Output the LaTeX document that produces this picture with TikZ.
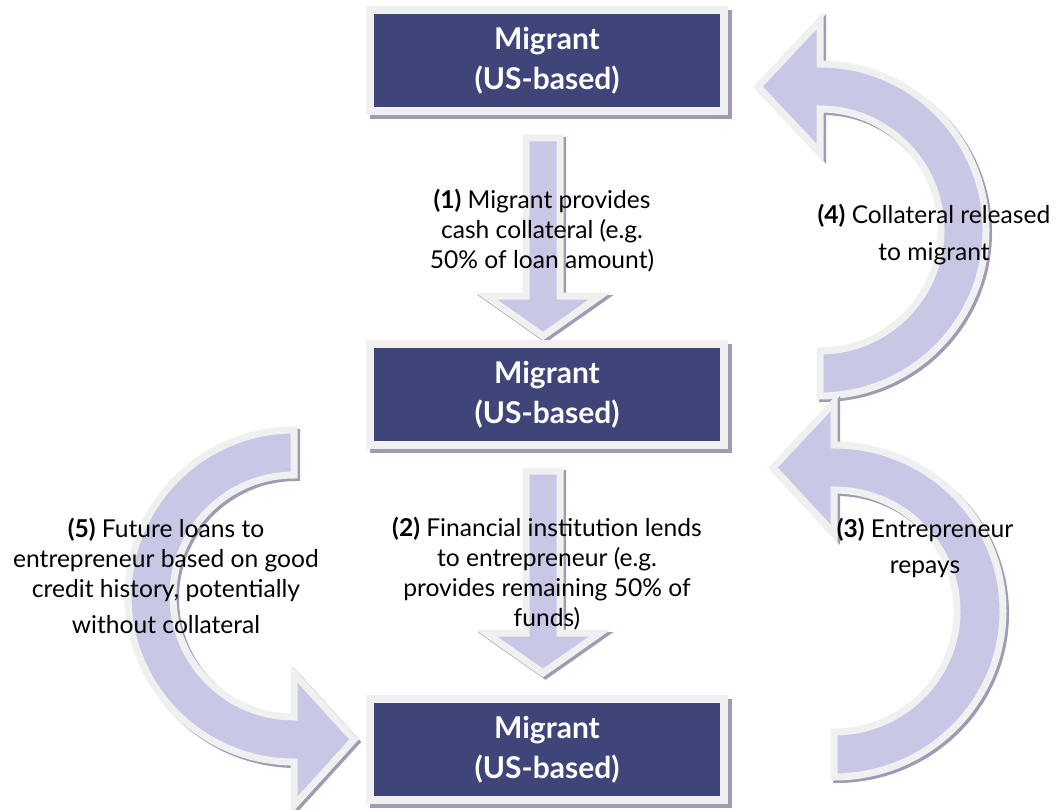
\documentclass[tikz,border=0pt]{standalone}
\usepackage{fontspec}
\setmainfont{Lato}
\definecolor{boxfill}{RGB}{63,69,120}
\definecolor{lav}{RGB}{200,200,230}
\definecolor{lightb}{RGB}{240,240,240}
\definecolor{shadowc}{RGB}{160,155,178}
\begin{document}
\begin{tikzpicture}[x=1pt,y=1pt,
  arrowshape/.style={fill=lav, draw=lightb, line width=7pt, line join=miter,
    preaction={fill=shadowc, draw=shadowc, line width=7pt, transform canvas={shift={(2.5pt,-2.5pt)}}}},
  boxshape/.style={fill=boxfill, draw=lightb, line width=8pt,
    preaction={fill=shadowc, draw=shadowc, line width=8pt, transform canvas={shift={(4pt,-4pt)}}}},
  boxtext/.style={text=white, font=\fontsize{30}{40}\selectfont\bfseries, align=center},
  lbl/.style={text=black, font=\fontsize{24.6}{30}\selectfont, align=center}
]
\useasboundingbox (0,0) rectangle (1059,-810);

% curved arrows
\path[arrowshape] (820,-396) arc[start angle=-90,end angle=90,radius=166pt]
  -- (820,-20.5) -- (758,-86.5) -- (820,-152.5) -- (820,-109)
  arc[start angle=90,end angle=-90,radius=121pt] -- cycle;
\path[arrowshape] (834,-777) arc[start angle=-90,end angle=90,x radius=169pt,y radius=166pt]
  -- (834,-402.5) -- (773,-467.5) -- (834,-533.5) -- (834,-490)
  arc[start angle=90,end angle=-90,x radius=123pt,y radius=121pt] -- cycle;
\path[arrowshape] (294,-430) arc[start angle=90,end angle=270,radius=166pt]
  -- (294,-805.5) -- (354,-739.5) -- (294,-673.5) -- (294,-717)
  arc[start angle=270,end angle=90,radius=121pt] -- cycle;

% straight arrows
\path[arrowshape] (526,-138) -- (560,-138) -- (560,-296) -- (600,-296) -- (543,-336)
  -- (486,-296) -- (526,-296) -- cycle;
\path[arrowshape] (526,-471) -- (560,-471) -- (560,-633) -- (600,-633) -- (543,-673)
  -- (486,-633) -- (526,-633) -- cycle;

% boxes
\path[boxshape] (370,-10) rectangle (724,-111);
\path[boxshape] (370,-344) rectangle (724,-445);
\path[boxshape] (370,-699) rectangle (724,-800);
\node[boxtext] (m1) at (547,-61) {Migrant\\(US-based)};
\node[boxtext] (m2) at (547,-395) {Migrant\\(US-based)};
\node[boxtext] (m3) at (547,-750) {Migrant\\(US-based)};

% labels
\node[lbl] (l1) at (542,-231) {\textbf{(1)} Migrant provides\\cash collateral (e.g.\\50\% of loan amount)};
\node[lbl] (l2) at (547,-574) {\textbf{(2)} Financial institution lends\\to entrepreneur (e.g.\\provides remaining 50\% of\\funds)};
\node[lbl] (l3) at (925,-548) {\textbf{(3)} Entrepreneur\\[6pt]repays};
\node[lbl] (l4) at (934,-235) {\textbf{(4)} Collateral released\\[7pt]to migrant};
\node[lbl] (l5) at (166,-576) {\textbf{(5)} Future loans to\\entrepreneur based on good\\credit history, potentially\\[6pt]without collateral};
\end{tikzpicture}
\end{document}
